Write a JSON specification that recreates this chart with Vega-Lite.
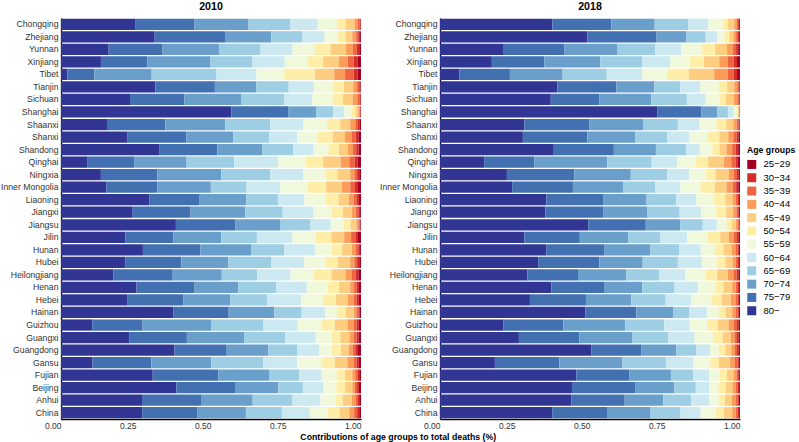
{
 "$schema": "https://vega.github.io/schema/vega-lite/v6.json",
 "padding": {"left": 0, "top": 2, "right": 0, "bottom": 0},
 "background": "white",
 "data": {"values": [
  {"year":"2010","region":"Chongqing","80-":24.9,"75-79":19.6,"70-74":18.0,"65-69":14.0,"60-64":9.1,"55-59":6.4,"50-54":2.8,"45-49":3.0,"40-44":1.1,"35-39":0.7,"30-34":0.3,"25-29":0.1},
  {"year":"2010","region":"Zhejiang","80-":31.2,"75-79":23.4,"70-74":15.4,"65-69":10.4,"60-64":7.4,"55-59":4.3,"50-54":2.6,"45-49":2.3,"40-44":1.3,"35-39":0.7,"30-34":0.6,"25-29":0.3},
  {"year":"2010","region":"Yunnan","80-":15.9,"75-79":18.0,"70-74":18.8,"65-69":13.9,"60-64":10.7,"55-59":7.3,"50-54":5.3,"45-49":5.2,"40-44":2.3,"35-39":1.3,"30-34":0.8,"25-29":0.6},
  {"year":"2010","region":"Xinjiang","80-":13.3,"75-79":15.5,"70-74":21.0,"65-69":14.0,"60-64":10.7,"55-59":7.5,"50-54":5.3,"45-49":5.3,"40-44":2.9,"35-39":2.0,"30-34":1.2,"25-29":1.2},
  {"year":"2010","region":"Tibet","80-":2.1,"75-79":9.0,"70-74":19.1,"65-69":21.6,"60-64":13.3,"55-59":9.3,"50-54":10.1,"45-49":6.5,"40-44":3.6,"35-39":2.9,"30-34":1.3,"25-29":1.1},
  {"year":"2010","region":"Tianjin","80-":31.5,"75-79":19.8,"70-74":13.8,"65-69":10.8,"60-64":8.4,"55-59":6.2,"50-54":3.8,"45-49":3.1,"40-44":1.3,"35-39":0.7,"30-34":0.4,"25-29":0.2},
  {"year":"2010","region":"Sichuan","80-":23.0,"75-79":18.1,"70-74":19.1,"65-69":14.3,"60-64":9.3,"55-59":6.8,"50-54":3.4,"45-49":3.2,"40-44":1.6,"35-39":0.7,"30-34":0.3,"25-29":0.2},
  {"year":"2010","region":"Shanghai","80-":56.7,"75-79":19.1,"70-74":9.1,"65-69":5.7,"60-64":3.8,"55-59":2.3,"50-54":1.4,"45-49":0.9,"40-44":0.4,"35-39":0.2,"30-34":0.2,"25-29":0.1},
  {"year":"2010","region":"Shaanxi","80-":15.6,"75-79":19.2,"70-74":20.0,"65-69":14.9,"60-64":11.1,"55-59":7.9,"50-54":4.4,"45-49":3.3,"40-44":1.7,"35-39":0.9,"30-34":0.6,"25-29":0.4},
  {"year":"2010","region":"Shanxi","80-":22.2,"75-79":19.5,"70-74":15.6,"65-69":12.1,"60-64":9.2,"55-59":6.7,"50-54":5.2,"45-49":4.1,"40-44":2.1,"35-39":1.4,"30-34":0.9,"25-29":0.9},
  {"year":"2010","region":"Shandong","80-":32.7,"75-79":19.4,"70-74":14.9,"65-69":10.4,"60-64":6.8,"55-59":5.0,"50-54":3.4,"45-49":3.0,"40-44":1.7,"35-39":1.1,"30-34":0.8,"25-29":0.8},
  {"year":"2010","region":"Qinghai","80-":8.9,"75-79":15.5,"70-74":17.5,"65-69":15.9,"60-64":14.7,"55-59":9.2,"50-54":5.8,"45-49":5.8,"40-44":2.9,"35-39":1.8,"30-34":1.0,"25-29":1.1},
  {"year":"2010","region":"Ningxia","80-":13.3,"75-79":18.8,"70-74":21.3,"65-69":16.3,"60-64":11.0,"55-59":7.4,"50-54":4.0,"45-49":4.3,"40-44":1.4,"35-39":0.9,"30-34":0.7,"25-29":0.6},
  {"year":"2010","region":"Inner Mongolia","80-":15.1,"75-79":17.0,"70-74":17.9,"65-69":11.9,"60-64":11.3,"55-59":9.1,"50-54":6.2,"45-49":5.2,"40-44":2.8,"35-39":1.6,"30-34":1.0,"25-29":1.0},
  {"year":"2010","region":"Liaoning","80-":29.4,"75-79":16.6,"70-74":15.8,"65-69":10.5,"60-64":8.8,"55-59":7.0,"50-54":4.4,"45-49":3.4,"40-44":1.7,"35-39":1.0,"30-34":0.7,"25-29":0.7},
  {"year":"2010","region":"Jiangxi","80-":23.9,"75-79":19.3,"70-74":18.2,"65-69":12.5,"60-64":10.3,"55-59":6.0,"50-54":3.8,"45-49":3.0,"40-44":1.3,"35-39":0.8,"30-34":0.6,"25-29":0.3},
  {"year":"2010","region":"Jiangsu","80-":38.3,"75-79":19.9,"70-74":15.0,"65-69":10.0,"60-64":6.7,"55-59":4.4,"50-54":2.2,"45-49":2.0,"40-44":0.7,"35-39":0.4,"30-34":0.2,"25-29":0.2},
  {"year":"2010","region":"Jilin","80-":21.5,"75-79":15.9,"70-74":16.0,"65-69":11.9,"60-64":11.8,"55-59":7.8,"50-54":5.2,"45-49":4.3,"40-44":2.3,"35-39":1.4,"30-34":0.9,"25-29":1.0},
  {"year":"2010","region":"Hunan","80-":27.3,"75-79":19.2,"70-74":17.0,"65-69":10.9,"60-64":10.2,"55-59":5.7,"50-54":3.4,"45-49":3.2,"40-44":1.4,"35-39":0.8,"30-34":0.6,"25-29":0.3},
  {"year":"2010","region":"Hubei","80-":21.5,"75-79":18.6,"70-74":15.6,"65-69":14.4,"60-64":10.9,"55-59":7.0,"50-54":4.2,"45-49":4.1,"40-44":1.4,"35-39":0.9,"30-34":0.7,"25-29":0.6},
  {"year":"2010","region":"Heilongjiang","80-":17.4,"75-79":19.6,"70-74":16.6,"65-69":11.8,"60-64":11.1,"55-59":7.7,"50-54":5.9,"45-49":4.7,"40-44":2.2,"35-39":1.2,"30-34":0.9,"25-29":0.9},
  {"year":"2010","region":"Henan","80-":25.2,"75-79":19.4,"70-74":14.5,"65-69":12.7,"60-64":10.2,"55-59":7.0,"50-54":3.8,"45-49":3.7,"40-44":1.3,"35-39":0.9,"30-34":0.7,"25-29":0.7},
  {"year":"2010","region":"Hebei","80-":22.2,"75-79":18.5,"70-74":15.6,"65-69":12.4,"60-64":11.2,"55-59":7.3,"50-54":4.4,"45-49":3.9,"40-44":2.0,"35-39":1.0,"30-34":0.7,"25-29":0.7},
  {"year":"2010","region":"Hainan","80-":37.4,"75-79":18.5,"70-74":15.2,"65-69":9.1,"60-64":7.8,"55-59":4.0,"50-54":2.9,"45-49":2.7,"40-44":0.9,"35-39":0.7,"30-34":0.4,"25-29":0.4},
  {"year":"2010","region":"Guizhou","80-":10.4,"75-79":16.8,"70-74":22.8,"65-69":17.5,"60-64":11.4,"55-59":8.1,"50-54":4.3,"45-49":4.2,"40-44":2.0,"35-39":1.0,"30-34":0.8,"25-29":0.7},
  {"year":"2010","region":"Guangxi","80-":22.9,"75-79":19.1,"70-74":19.1,"65-69":13.8,"60-64":10.1,"55-59":5.3,"50-54":2.9,"45-49":3.1,"40-44":1.3,"35-39":1.0,"30-34":0.7,"25-29":0.8},
  {"year":"2010","region":"Guangdong","80-":37.8,"75-79":17.2,"70-74":14.1,"65-69":9.7,"60-64":7.2,"55-59":4.3,"50-54":3.0,"45-49":2.6,"40-44":1.3,"35-39":0.9,"30-34":0.9,"25-29":1.0},
  {"year":"2010","region":"Gansu","80-":10.5,"75-79":19.6,"70-74":20.0,"65-69":17.2,"60-64":11.4,"55-59":8.2,"50-54":4.3,"45-49":4.2,"40-44":2.0,"35-39":1.0,"30-34":0.8,"25-29":0.7},
  {"year":"2010","region":"Fujian","80-":30.6,"75-79":21.9,"70-74":16.9,"65-69":10.1,"60-64":7.5,"55-59":5.0,"50-54":2.8,"45-49":2.4,"40-44":1.0,"35-39":0.7,"30-34":0.6,"25-29":0.6},
  {"year":"2010","region":"Beijing","80-":38.5,"75-79":19.8,"70-74":14.2,"65-69":8.2,"60-64":6.9,"55-59":4.3,"50-54":2.9,"45-49":2.4,"40-44":0.9,"35-39":0.7,"30-34":0.6,"25-29":0.7},
  {"year":"2010","region":"Anhui","80-":27.0,"75-79":19.9,"70-74":17.0,"65-69":13.3,"60-64":9.3,"55-59":5.0,"50-54":2.4,"45-49":3.1,"40-44":1.2,"35-39":0.8,"30-34":0.4,"25-29":0.6},
  {"year":"2010","region":"China","80-":27.1,"75-79":18.5,"70-74":16.1,"65-69":12.0,"60-64":9.3,"55-59":6.1,"50-54":3.9,"45-49":3.2,"40-44":1.6,"35-39":1.0,"30-34":0.7,"25-29":0.6},
  {"year":"2018","region":"Chongqing","80-":37.4,"75-79":19.7,"70-74":14.4,"65-69":11.1,"60-64":6.8,"55-59":4.7,"50-54":1.7,"45-49":2.2,"40-44":0.9,"35-39":0.4,"30-34":0.3,"25-29":0.3},
  {"year":"2018","region":"Zhejiang","80-":49.1,"75-79":23.1,"70-74":9.8,"65-69":6.6,"60-64":3.9,"55-59":2.3,"50-54":1.6,"45-49":1.4,"40-44":0.9,"35-39":0.6,"30-34":0.4,"25-29":0.3},
  {"year":"2018","region":"Yunnan","80-":21.0,"75-79":20.4,"70-74":17.8,"65-69":12.6,"60-64":8.7,"55-59":6.9,"50-54":4.3,"45-49":4.0,"40-44":1.9,"35-39":1.1,"30-34":0.7,"25-29":0.6},
  {"year":"2018","region":"Xinjiang","80-":17.3,"75-79":17.5,"70-74":18.7,"65-69":13.9,"60-64":9.4,"55-59":6.6,"50-54":4.7,"45-49":5.1,"40-44":2.7,"35-39":2.0,"30-34":1.2,"25-29":1.0},
  {"year":"2018","region":"Tibet","80-":6.5,"75-79":16.8,"70-74":17.6,"65-69":14.7,"60-64":11.9,"55-59":8.2,"50-54":7.2,"45-49":8.5,"40-44":4.6,"35-39":1.8,"30-34":1.2,"25-29":1.0},
  {"year":"2018","region":"Tianjin","80-":39.1,"75-79":19.6,"70-74":12.7,"65-69":8.6,"60-64":6.6,"55-59":6.2,"50-54":2.8,"45-49":2.4,"40-44":1.0,"35-39":0.4,"30-34":0.3,"25-29":0.2},
  {"year":"2018","region":"Sichuan","80-":36.9,"75-79":16.1,"70-74":17.3,"65-69":11.9,"60-64":6.3,"55-59":4.7,"50-54":1.9,"45-49":2.7,"40-44":1.2,"35-39":0.4,"30-34":0.3,"25-29":0.2},
  {"year":"2018","region":"Shanghai","80-":72.4,"75-79":14.8,"70-74":5.3,"65-69":3.5,"60-64":1.9,"55-59":0.9,"50-54":0.6,"45-49":0.3,"40-44":0.1,"35-39":0.1,"30-34":0.06,"25-29":0.06},
  {"year":"2018","region":"Shaanxi","80-":28.1,"75-79":21.7,"70-74":17.8,"65-69":11.6,"60-64":7.2,"55-59":5.7,"50-54":3.2,"45-49":2.4,"40-44":1.1,"35-39":0.6,"30-34":0.3,"25-29":0.2},
  {"year":"2018","region":"Shanxi","80-":27.6,"75-79":21.5,"70-74":16.0,"65-69":10.5,"60-64":7.3,"55-59":6.1,"50-54":4.0,"45-49":3.0,"40-44":1.7,"35-39":1.1,"30-34":0.7,"25-29":0.4},
  {"year":"2018","region":"Shandong","80-":37.9,"75-79":20.0,"70-74":14.0,"65-69":10.0,"60-64":4.6,"55-59":4.2,"50-54":2.4,"45-49":2.3,"40-44":1.9,"35-39":1.2,"30-34":0.8,"25-29":0.6},
  {"year":"2018","region":"Qinghai","80-":14.7,"75-79":16.7,"70-74":24.3,"65-69":14.8,"60-64":8.5,"55-59":6.2,"50-54":4.1,"45-49":5.3,"40-44":2.4,"35-39":1.4,"30-34":0.8,"25-29":0.7},
  {"year":"2018","region":"Ningxia","80-":22.3,"75-79":22.5,"70-74":18.8,"65-69":12.1,"60-64":7.3,"55-59":5.7,"50-54":3.1,"45-49":4.5,"40-44":1.7,"35-39":1.0,"30-34":0.6,"25-29":0.4},
  {"year":"2018","region":"Inner Mongolia","80-":24.1,"75-79":20.3,"70-74":16.7,"65-69":10.8,"60-64":8.4,"55-59":6.7,"50-54":4.7,"45-49":4.0,"40-44":2.1,"35-39":1.1,"30-34":0.7,"25-29":0.6},
  {"year":"2018","region":"Liaoning","80-":35.4,"75-79":18.9,"70-74":14.5,"65-69":9.8,"60-64":6.8,"55-59":5.9,"50-54":3.7,"45-49":2.4,"40-44":1.1,"35-39":0.7,"30-34":0.4,"25-29":0.3},
  {"year":"2018","region":"Jiangxi","80-":35.1,"75-79":19.2,"70-74":14.8,"65-69":10.7,"60-64":7.1,"55-59":5.1,"50-54":3.3,"45-49":2.3,"40-44":1.1,"35-39":0.6,"30-34":0.3,"25-29":0.3},
  {"year":"2018","region":"Jiangsu","80-":49.4,"75-79":19.2,"70-74":11.5,"65-69":7.5,"60-64":4.7,"55-59":3.3,"50-54":1.7,"45-49":1.3,"40-44":0.6,"35-39":0.4,"30-34":0.2,"25-29":0.2},
  {"year":"2018","region":"Jilin","80-":28.1,"75-79":18.5,"70-74":16.1,"65-69":10.8,"60-64":8.9,"55-59":6.9,"50-54":4.1,"45-49":2.9,"40-44":1.7,"35-39":1.0,"30-34":0.6,"25-29":0.4},
  {"year":"2018","region":"Hunan","80-":35.4,"75-79":19.3,"70-74":15.3,"65-69":9.7,"60-64":7.2,"55-59":4.7,"50-54":2.9,"45-49":2.7,"40-44":1.3,"35-39":0.7,"30-34":0.4,"25-29":0.4},
  {"year":"2018","region":"Hubei","80-":32.7,"75-79":20.4,"70-74":14.4,"65-69":11.7,"60-64":8.0,"55-59":5.0,"50-54":2.8,"45-49":2.4,"40-44":1.1,"35-39":0.7,"30-34":0.4,"25-29":0.3},
  {"year":"2018","region":"Heilongjiang","80-":29.1,"75-79":16.9,"70-74":16.1,"65-69":11.0,"60-64":8.6,"55-59":6.8,"50-54":3.9,"45-49":3.5,"40-44":1.9,"35-39":1.1,"30-34":0.7,"25-29":0.4},
  {"year":"2018","region":"Henan","80-":37.1,"75-79":17.8,"70-74":12.5,"65-69":10.6,"60-64":8.1,"55-59":5.6,"50-54":2.8,"45-49":2.9,"40-44":1.2,"35-39":0.7,"30-34":0.4,"25-29":0.3},
  {"year":"2018","region":"Hebei","80-":30.0,"75-79":18.7,"70-74":15.1,"65-69":11.5,"60-64":8.6,"55-59":6.6,"50-54":3.5,"45-49":3.0,"40-44":1.6,"35-39":0.7,"30-34":0.4,"25-29":0.4},
  {"year":"2018","region":"Hainan","80-":48.4,"75-79":16.9,"70-74":12.2,"65-69":5.5,"60-64":5.8,"55-59":3.9,"50-54":2.3,"45-49":2.2,"40-44":1.1,"35-39":0.7,"30-34":0.4,"25-29":0.4},
  {"year":"2018","region":"Guizhou","80-":21.2,"75-79":20.0,"70-74":20.6,"65-69":13.0,"60-64":8.5,"55-59":5.8,"50-54":3.6,"45-49":3.6,"40-44":1.8,"35-39":1.0,"30-34":0.6,"25-29":0.4},
  {"year":"2018","region":"Guangxi","80-":26.3,"75-79":20.2,"70-74":17.7,"65-69":11.9,"60-64":8.8,"55-59":6.1,"50-54":3.2,"45-49":2.7,"40-44":1.3,"35-39":0.8,"30-34":0.6,"25-29":0.4},
  {"year":"2018","region":"Guangdong","80-":50.4,"75-79":16.8,"70-74":11.6,"65-69":6.7,"60-64":4.5,"55-59":2.9,"50-54":2.2,"45-49":2.0,"40-44":1.2,"35-39":0.7,"30-34":0.6,"25-29":0.4},
  {"year":"2018","region":"Gansu","80-":18.3,"75-79":21.5,"70-74":21.0,"65-69":14.5,"60-64":9.2,"55-59":5.6,"50-54":2.8,"45-49":3.8,"40-44":1.6,"35-39":0.9,"30-34":0.4,"25-29":0.4},
  {"year":"2018","region":"Fujian","80-":45.4,"75-79":17.6,"70-74":13.9,"65-69":7.5,"60-64":5.2,"55-59":3.5,"50-54":2.4,"45-49":2.2,"40-44":1.0,"35-39":0.6,"30-34":0.3,"25-29":0.3},
  {"year":"2018","region":"Beijing","80-":43.9,"75-79":21.0,"70-74":13.0,"65-69":7.2,"60-64":4.5,"55-59":3.0,"50-54":2.4,"45-49":2.3,"40-44":1.1,"35-39":0.7,"30-34":0.4,"25-29":0.3},
  {"year":"2018","region":"Anhui","80-":43.7,"75-79":17.8,"70-74":12.8,"65-69":9.4,"60-64":6.0,"55-59":3.1,"50-54":2.1,"45-49":2.3,"40-44":1.2,"35-39":0.7,"30-34":0.4,"25-29":0.4},
  {"year":"2018","region":"China","80-":37.4,"75-79":18.5,"70-74":14.3,"65-69":10.0,"60-64":6.7,"55-59":5.0,"50-54":2.8,"45-49":2.7,"40-44":1.2,"35-39":0.7,"30-34":0.4,"25-29":0.3}
 ]},
 "transform": [
  {"fold": ["80-","75-79","70-74","65-69","60-64","55-59","50-54","45-49","40-44","35-39","30-34","25-29"], "as": ["age","share"]}
 ],
 "facet": {"column": {"field": "year", "type": "nominal", "title": null,
   "header": {"labelFontSize": 10.6, "labelFontWeight": "bold", "labelFont": "Liberation Sans", "labelColor": "black", "labelPadding": 5}}},
 "spacing": 18,
 "resolve": {"axis": {"y": "independent"}},
 "spec": {
  "width": 300,
  "height": 401,
  "mark": {"type": "bar"},
  "encoding": {
   "y": {"field": "region", "type": "nominal",
     "sort": ["Chongqing","Zhejiang","Yunnan","Xinjiang","Tibet","Tianjin","Sichuan","Shanghai","Shaanxi","Shanxi","Shandong","Qinghai","Ningxia","Inner Mongolia","Liaoning","Jiangxi","Jiangsu","Jilin","Hunan","Hubei","Heilongjiang","Henan","Hebei","Hainan","Guizhou","Guangxi","Guangdong","Gansu","Fujian","Beijing","Anhui","China"],
     "scale": {"paddingInner": 0.1, "paddingOuter": 0.05},
     "axis": {"title": null, "ticks": false, "labelPadding": 3, "labelFontSize": 8.7}},
   "x": {"field": "share", "type": "quantitative", "stack": "normalize",
     "scale": {"domain": [0, 1], "nice": false},
     "axis": {"title": null, "values": [0, 0.25, 0.5, 0.75, 1], "labelExpr": "format(datum.value, '.2f')", "ticks": false, "labelAlign": "right", "labelFlush": false, "labelPadding": 2, "labelFontSize": 8.5, "domainWidth": 1.3}},
   "color": {"field": "age", "type": "nominal",
     "scale": {"domain": ["25-29","30-34","35-39","40-44","45-49","50-54","55-59","60-64","65-69","70-74","75-79","80-"],
               "range": ["#a50026","#d42d27","#ef6340","#fb9c59","#fdce7f","#ffeea7","#f0f9dc","#cce9f2","#9dcee3","#6a9fcb","#4370b1","#313695"]},
     "legend": {"title": "Age groups", "orient": "none", "legendX": 686, "legendY": 128,
       "symbolType": "square", "symbolSize": 81, "symbolStrokeWidth": 0, "symbolOpacity": 1,
       "labelFontSize": 9.5, "labelFont": "Liberation Sans", "labelColor": "black", "labelOffset": 7,
       "titleFontSize": 8.7, "titleFont": "Liberation Sans", "titleFontWeight": "bold", "titleColor": "black", "titlePadding": 5,
       "rowPadding": 2.3, "labelExpr": "replace(datum.label, '-', '\u2212')"}},
   "order": {"field": "age", "sort": "descending"}
  }
 },
 "title": {"text": "Contributions of age groups to total deaths (%)", "orient": "bottom", "anchor": "middle",
   "font": "Liberation Sans", "fontSize": 8.75, "fontWeight": "bold", "color": "black", "offset": 3},
 "config": {
  "view": {"stroke": null},
  "font": "Liberation Sans",
  "axis": {"grid": false, "domainColor": "black", "domainWidth": 1.3, "labelFont": "Liberation Sans", "labelColor": "#333333"}
 }
}
